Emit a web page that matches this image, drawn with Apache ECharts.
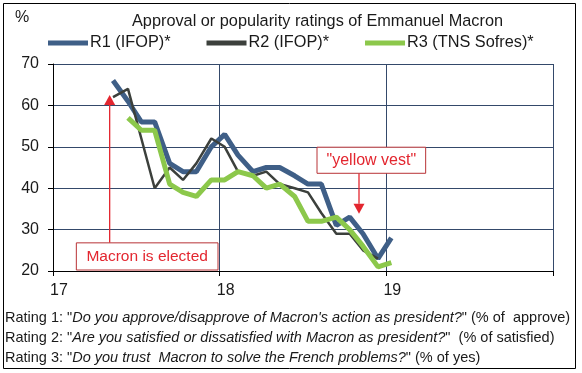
<!DOCTYPE html>
<html>
<head>
<meta charset="utf-8">
<script src="https://cdn.jsdelivr.net/npm/echarts/dist/echarts.min.js"></script>
<style>
html,body{margin:0;padding:0;background:#fff;}
#c{width:582px;height:373px;}
</style>
</head>
<body>
<div id="c"></div>
<script>
// ---- data ----
const xYears = [17.36, 17.45, 17.53, 17.61, 17.70, 17.78, 17.86, 17.95, 18.03, 18.11, 18.20,
                18.28, 18.36, 18.45, 18.53, 18.61, 18.70, 18.78, 18.86, 18.95, 19.03];
const r1 = [66, 61, 56, 56, 46, 44, 44, 50, 53, 48, 44, 45, 45, 43, 41, 41, 31, 33, 29, 23, 28];
const r2 = [62, 64, 52, 40, 45, 42, 46, 52, 50, 44, 43, 44, 41, 40, 39, 34, 29, 29, 25, 23, null];
const r3 = [null, 57, 54, 54, 41, 39, 38, 42, 42, 44, 43, 40, 41, 38, 32, 32, 33, 30, 26, 21, 22];
const seriesNames = ['R1 (IFOP)*', 'R2 (IFOP)*', 'R3 (TNS Sofres)*'];
const xTicks = [17, 18, 19, 20];
const xTickLabels = ['17', '18', '19', ''];
const yTicks = [20, 30, 40, 50, 60, 70];
const titleText = 'Approval or popularity ratings of Emmanuel Macron';
const notes = [
  ['Rating 1: "', 'Do you approve/disapprove of Macron\'s action as president?', '" (% of  approve)'],
  ['Rating 2: "', 'Are you satisfied or dissatisfied with Macron as president?', '"  (% of satisfied)'],
  ['Rating 3: "', 'Do you trust  Macron to solve the French problems?', '" (% of yes)']
];
const events = [
  {label: 'Macron is elected', x: 17.34, from: 26.8, to: 62.5},
  {label: '"yellow vest"', x: 18.836, from: 43.6, to: 33.8}
];

const FONT = '"Liberation Sans", Arial, sans-serif';
const GRID = '#34496a';
const RED = '#e3262f';

function pairs(vals) {
  return xYears.map((x, i) => [x, vals[i]]).filter(p => p[1] !== null);
}

const chart = echarts.init(document.getElementById('c'), null, {renderer: 'canvas'});
const option = {
  animation: false,
  backgroundColor: '#fff',
  textStyle: {fontFamily: FONT},
  grid: {left: 53, top: 64, right: 29, bottom: 102, containLabel: false},
  title: {
    text: titleText, left: 127, top: 9,
    textStyle: {fontFamily: FONT, fontSize: 16.3, fontWeight: 'normal', color: '#1a1a1a'}
  },
  legend: {
    data: seriesNames, left: 43, top: 30, itemGap: 36,
    icon: 'rect', itemWidth: 40, itemHeight: 5,
    textStyle: {fontFamily: FONT, fontSize: 16.3, color: '#1a1a1a', padding: [0, 0, 0, -3]}
  },
  xAxis: {
    type: 'value', min: xTicks[0], max: xTicks[xTicks.length - 1], interval: 1,
    axisLine: {show: true, lineStyle: {color: '#000', width: 1}},
    axisTick: {show: true, inside: false, length: 5, lineStyle: {color: '#000'}},
    axisLabel: {fontFamily: FONT, fontSize: 16, color: '#1a1a1a', margin: 12,
                padding: [0, 0, 0, 12], formatter: v => xTickLabels[xTicks.indexOf(v)] || ''},
    splitLine: {show: true, lineStyle: {color: GRID, width: 1}}
  },
  yAxis: {
    type: 'value', min: yTicks[0], max: yTicks[yTicks.length - 1], interval: 10,
    axisLine: {show: true, lineStyle: {color: '#000', width: 1}},
    axisTick: {show: true, inside: false, length: 5, lineStyle: {color: '#000'}},
    axisLabel: {fontFamily: FONT, fontSize: 16, color: '#1a1a1a', margin: 14},
    splitLine: {show: true, lineStyle: {color: GRID, width: 1}}
  },
  series: [
    {name: seriesNames[0], type: 'line', data: pairs(r1), showSymbol: false, symbol: 'none',
     color: '#3f5f87', lineStyle: {width: 5, color: '#3f5f87'}, z: 2},
    {name: seriesNames[1], type: 'line', data: pairs(r2), showSymbol: false, symbol: 'none',
     color: '#3c403c', lineStyle: {width: 2.5, color: '#3c403c'}, z: 3},
    {name: seriesNames[2], type: 'line', data: pairs(r3), showSymbol: false, symbol: 'none',
     color: '#8cc84b', lineStyle: {width: 5, color: '#8cc84b'}, z: 4}
  ]
};
chart.setOption(option);

// ---- annotations anchored to the axes ----
const g = [];
function px(x, y) { return chart.convertToPixel({gridIndex: 0}, [x, y]); }

events.forEach((ev) => {
  const a = px(ev.x, ev.from), b = px(ev.x, ev.to);
  const dir = b[1] < a[1] ? -1 : 1;
  const headH = 10, headW = 11;
  const baseY = b[1] - dir * headH;
  g.push({type: 'line', z: 100, shape: {x1: a[0], y1: a[1], x2: b[0], y2: baseY},
          style: {stroke: RED, lineWidth: 1.3}});
  g.push({type: 'polygon', z: 100,
          shape: {points: [[b[0], b[1]], [b[0] - headW / 2, baseY], [b[0] + headW / 2, baseY]]},
          style: {fill: RED}});
});

(function () {
  const p1 = px(17.14, 26.8), p1b = px(17.99, 20);
  g.push({type: 'rect', z: 101, shape: {x: p1[0], y: p1[1], width: p1b[0] - p1[0], height: p1b[1] - p1[1] - 1},
          style: {fill: '#fff', stroke: '#b83236', lineWidth: 1}});
  g.push({type: 'text', z: 102, x: (p1[0] + p1b[0]) / 2, y: (p1[1] + p1b[1]) / 2,
          style: {text: events[0].label, font: '15.5px ' + FONT, fill: RED, align: 'center', verticalAlign: 'middle'}});
  const p2 = px(18.584, 49.9), p2b = px(19.236, 43.6);
  g.push({type: 'rect', z: 101, shape: {x: p2[0], y: p2[1], width: p2b[0] - p2[0], height: p2b[1] - p2[1]},
          style: {fill: '#fff', stroke: '#b83236', lineWidth: 1}});
  g.push({type: 'text', z: 102, x: (p2[0] + p2b[0]) / 2, y: (p2[1] + p2b[1]) / 2,
          style: {text: events[1].label, font: '16px ' + FONT, fill: RED, align: 'center', verticalAlign: 'middle'}});
})();

g.push({type: 'text', left: 15, top: 10, style: {text: '%', font: '16px ' + FONT, fill: '#1a1a1a'}});

const NOTE_N = '14.5px ' + FONT;
const NOTE_I = 'italic 14.5px ' + FONT;
notes.forEach((n, i) => {
  g.push({type: 'text', left: 5, top: 310 + i * 20,
          style: {text: '{n|' + n[0] + '}{i|' + n[1] + '}{n|' + n[2] + '}',
                  rich: {n: {font: NOTE_N, fill: '#1a1a1a'},
                         i: {font: NOTE_I, fill: '#1a1a1a'}},
                  font: NOTE_N, fill: '#1a1a1a'}});
});

g.push({type: 'rect', z: -1, shape: {x: 3.5, y: 3.5, width: 572, height: 365},
        style: {fill: 'none', stroke: '#000', lineWidth: 1}});

chart.setOption({graphic: g});
</script>
</body>
</html>
